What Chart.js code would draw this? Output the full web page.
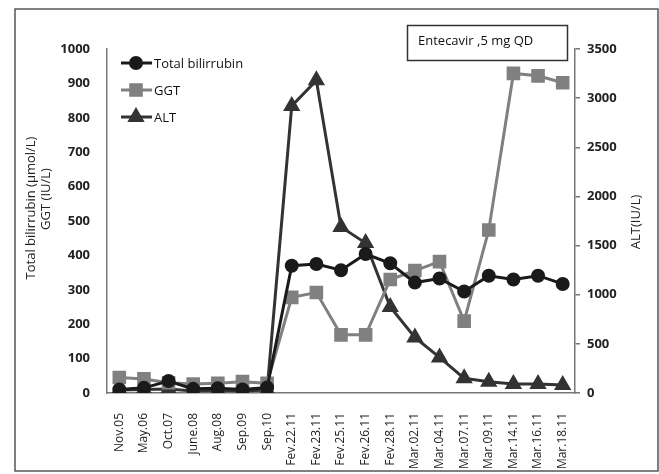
<!DOCTYPE html>
<html>
<head>
<meta charset="utf-8">
<script src="https://cdn.jsdelivr.net/npm/chart.js@4.4.1/dist/chart.umd.min.js"></script>
<style>
  html, body { margin: 0; padding: 0; background: #ffffff; }
  #c { display: block; }
</style>
</head>
<body>
<canvas id="c" width="659" height="474"></canvas>
<script>
// ---- data ----
const categories = ['Nov.05','May.06','Oct.07','June.08','Aug.08','Sep.09','Sep.10',
  'Fev.22.11','Fev.23.11','Fev.25.11','Fev.26.11','Fev.28.11','Mar.02.11','Mar.04.11',
  'Mar.07.11','Mar.09.11','Mar.14.11','Mar.16.11','Mar.18.11'];
// total bilirubin (left axis, µmol/L)
const bilirubin = [10, 15, 35, 12, 14, 10, 16, 370, 375, 357, 404, 377, 321, 333, 295, 341, 330, 341, 317];
// GGT (left axis, IU/L)
const ggt = [45, 41, 30, 26, 28, 33, 28, 278, 292, 169, 169, 330, 356, 382, 209, 474, 929, 922, 902];
// ALT (right axis, IU/L)
const alt = [30, 35, 40, 20, 25, 20, 30, 2921, 3181, 1690, 1525, 875, 565, 362, 149, 115, 91, 91, 81];
const leftTicksMax = 1000, leftStep = 100;
const rightTicksMax = 3500, rightStep = 500;
const seriesNames = ['Total bilirrubin', 'GGT', 'ALT'];
const annotationText = 'Entecavir ,5 mg QD';
const leftTitle = ['Total bilirrubin (µmol/L)', 'GGT (IU/L)'];
const rightTitle = 'ALT(IU/L)';

const FONT = '"Open Sans", "DejaVu Sans", sans-serif';
const textColor = '#222222';
const axisColor = '#777777';

const decorPlugin = {
  id: 'decor',
  beforeDraw(chart) {
    const ctx = chart.ctx;
    ctx.save();
    ctx.fillStyle = '#ffffff';
    ctx.fillRect(0, 0, chart.width, chart.height);
    ctx.restore();
  },
  afterDraw(chart) {
    const ctx = chart.ctx;
    ctx.save();
    // outer frame
    ctx.strokeStyle = '#555555';
    ctx.lineWidth = 1.5;
    ctx.strokeRect(15, 9, 643, 462);

    // annotation box
    ctx.strokeStyle = '#333333';
    ctx.lineWidth = 1.5;
    ctx.strokeRect(407.5, 25.5, 160, 35);
    ctx.fillStyle = '#111111';
    ctx.font = '13px ' + FONT;
    ctx.textAlign = 'left';
    ctx.textBaseline = 'middle';
    ctx.fillText(annotationText, 418, 41);

    // legend (line + marker)
    const rows = [63, 90, 117];
    chart.data.datasets.forEach((ds, i) => {
      const y = rows[i];
      ctx.strokeStyle = ds.borderColor;
      ctx.lineWidth = 3;
      ctx.beginPath();
      ctx.moveTo(121, y);
      ctx.lineTo(152, y);
      ctx.stroke();
      ctx.fillStyle = ds.pointBackgroundColor;
      ctx.strokeStyle = ds.pointBorderColor;
      Chart.helpers.drawPoint(ctx, {
        pointStyle: ds.pointStyle, radius: ds.pointRadius, rotation: 0, borderWidth: 1
      }, 136, y);
      ctx.fillStyle = '#111111';
      ctx.font = '13px ' + FONT;
      ctx.textAlign = 'left';
      ctx.textBaseline = 'middle';
      ctx.fillText(ds.label, 154, y + 1);
    });

    // axis titles
    ctx.fillStyle = textColor;
    ctx.font = '13px ' + FONT;
    ctx.textAlign = 'center';
    ctx.textBaseline = 'middle';
    ctx.save();
    ctx.translate(31, 208);
    ctx.rotate(-Math.PI / 2);
    ctx.fillText(leftTitle[0], 0, 0);
    ctx.restore();
    ctx.save();
    ctx.translate(46, 199);
    ctx.rotate(-Math.PI / 2);
    ctx.fillText(leftTitle[1], 0, 0);
    ctx.restore();
    ctx.save();
    ctx.translate(636, 222);
    ctx.rotate(-Math.PI / 2);
    ctx.fillText(rightTitle, 0, 0);
    ctx.restore();

    ctx.restore();
  }
};

new Chart(document.getElementById('c'), {
  type: 'line',
  data: {
    labels: categories,
    datasets: [
      {
        label: seriesNames[0], data: bilirubin, yAxisID: 'y',
        borderColor: '#1a1a1a', backgroundColor: '#1a1a1a',
        pointBackgroundColor: '#1a1a1a', pointBorderColor: '#1a1a1a',
        borderWidth: 3, pointStyle: 'circle', pointRadius: 5.5, order: 1
      },
      {
        label: seriesNames[1], data: ggt, yAxisID: 'y',
        borderColor: '#808080', backgroundColor: '#808080',
        pointBackgroundColor: '#808080', pointBorderColor: '#808080',
        borderWidth: 3, pointStyle: 'rect', pointRadius: 7.5, order: 2
      },
      {
        label: seriesNames[2], data: alt, yAxisID: 'y2',
        borderColor: '#333333', backgroundColor: '#333333',
        pointBackgroundColor: '#333333', pointBorderColor: '#333333',
        borderWidth: 3, pointStyle: 'triangle', pointRadius: 7, order: 3
      }
    ]
  },
  options: {
    responsive: false,
    devicePixelRatio: 1,
    animation: false,
    layout: { padding: { top: 49, left: 0, right: 0, bottom: 0 } },
    plugins: { legend: { display: false }, tooltip: { enabled: false } },
    elements: { line: { tension: 0 } },
    scales: {
      x: {
        offset: true,
        grid: { display: false },
        border: { display: true, color: axisColor, width: 1.5 },
        ticks: {
          autoSkip: false, minRotation: 90, maxRotation: 90, padding: 12,
          color: textColor, font: { family: FONT, size: 12 }
        },
        afterFit(s) { s.height = 474 - 393; }
      },
      y: {
        position: 'left', min: 0, max: leftTicksMax,
        grid: { display: false },
        border: { display: true, color: axisColor, width: 1.5 },
        ticks: {
          stepSize: leftStep, padding: 9, color: textColor,
          font: { family: FONT, size: 13, weight: 'bold' },
          callback: (v) => String(v)
        },
        afterFit(s) { s.width = 107; }
      },
      y2: {
        position: 'right', min: 0, max: rightTicksMax,
        grid: { display: true, drawOnChartArea: false, drawTicks: true, tickLength: 5, color: axisColor, lineWidth: 1.5 },
        border: { display: true, color: axisColor, width: 1.5 },
        ticks: {
          stepSize: rightStep, padding: 7, color: textColor,
          font: { family: FONT, size: 13, weight: 'bold' },
          callback: (v) => String(v)
        },
        afterFit(s) { s.width = 659 - 575; }
      }
    }
  },
  plugins: [decorPlugin]
});
</script>
</body>
</html>
